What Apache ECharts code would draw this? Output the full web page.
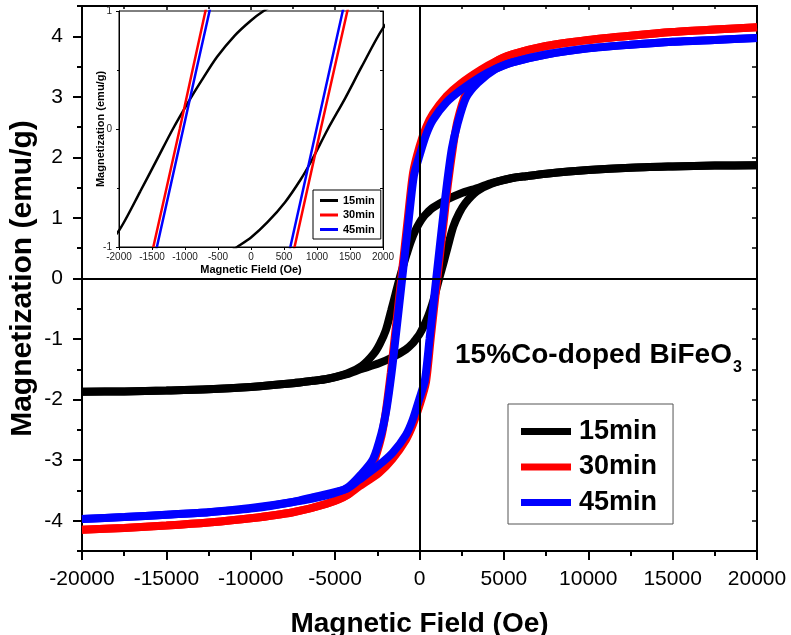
<!DOCTYPE html>
<html>
<head>
<meta charset="utf-8">
<script src="https://cdn.jsdelivr.net/npm/echarts@6/dist/echarts.min.js"></script>
<style>
html, body { margin: 0; padding: 0; background: #fff; }
#chart { width: 791px; height: 635px; }
</style>
</head>
<body>
<div id="chart"></div>
<script>
// 样品名称和颜色
var sampleNames = ['15min', '30min', '45min']
var sampleColors = ['#000000', '#ff0000', '#0000ff']

// 刻度
var yMajor = [-4, -3, -2, -1, 0, 1, 2, 3, 4]

// 15min 回线: [H (Oe), M (emu/g)]
var down15 = [[20000, 1.87], [17500, 1.865], [15000, 1.85], [12500, 1.83], [10000, 1.79], [7500, 1.73],
	[6300, 1.69], [5500, 1.66], [4300, 1.58], [3500, 1.50], [2400, 1.40], [1600, 1.30], [800, 1.17],
	[400, 1.07], [190, 1.0], [0, 0.92], [-250, 0.79], [-516, 0.61], [-750, 0.41], [-921, 0.255],
	[-1184, 0.0], [-1426, -0.26], [-1679, -0.53], [-2000, -0.86], [-2350, -1.08], [-2700, -1.24],
	[-3400, -1.44], [-4300, -1.57], [-5500, -1.66], [-6300, -1.69], [-7500, -1.73], [-10000, -1.79],
	[-12500, -1.83], [-15000, -1.85], [-17500, -1.865], [-20000, -1.87]]
var up15 = [[-20000, -1.87], [-17500, -1.865], [-15000, -1.85], [-12500, -1.83], [-10000, -1.79],
	[-7500, -1.73], [-6300, -1.69], [-5500, -1.66], [-4300, -1.58], [-3500, -1.50], [-2400, -1.40],
	[-1600, -1.30], [-800, -1.17], [-400, -1.07], [-210, -1.0], [0, -0.92], [250, -0.79], [516, -0.62],
	[750, -0.43], [921, -0.265], [1165, 0.0], [1426, 0.26], [1679, 0.53], [2000, 0.855], [2350, 1.08],
	[2700, 1.24], [3400, 1.44], [4300, 1.57], [5500, 1.66], [6300, 1.69], [7500, 1.73], [10000, 1.79],
	[12500, 1.83], [15000, 1.85], [17500, 1.865], [20000, 1.87]]

// 30min 回线
var down30 = [[20000, 4.15], [17500, 4.11], [15000, 4.07], [12500, 4.01], [10000, 3.94], [7500, 3.84],
	[5500, 3.70], [4500, 3.58], [3600, 3.44], [2400, 3.21], [1600, 3.01], [800, 2.72], [400, 2.50],
	[0, 2.18], [-380, 1.75], [-690, 1.0], [-1080, 0.0], [-1480, -1.0], [-1700, -1.55], [-2000, -2.2],
	[-2250, -2.6], [-2750, -3.05], [-3450, -3.32], [-4300, -3.58], [-5500, -3.72], [-7500, -3.86],
	[-10000, -3.96], [-12500, -4.03], [-15000, -4.08], [-17500, -4.12], [-20000, -4.15]]
var up30 = [[-20000, -4.15], [-17500, -4.12], [-15000, -4.08], [-12500, -4.03], [-10000, -3.96],
	[-7500, -3.86], [-5500, -3.72], [-4300, -3.58], [-3600, -3.44], [-2400, -3.21], [-1600, -2.98],
	[-800, -2.66], [-400, -2.42], [0, -2.1], [380, -1.72], [660, -1.0], [1057, 0.0], [1460, 1.0],
	[1680, 1.55], [2000, 2.2], [2250, 2.6], [2750, 3.05], [3450, 3.32], [4500, 3.58], [5500, 3.70],
	[7500, 3.84], [10000, 3.94], [12500, 4.01], [15000, 4.07], [17500, 4.11], [20000, 4.15]]

// 45min 回线
var down45 = [[20000, 3.97], [17500, 3.94], [15000, 3.91], [12500, 3.86], [10000, 3.80], [7500, 3.70],
	[5500, 3.57], [4500, 3.46], [3600, 3.33], [2400, 3.10], [1600, 2.91], [800, 2.62], [400, 2.38],
	[0, 2.03], [-330, 1.70], [-628, 1.0], [-1027, 0.0], [-1426, -1.0], [-1650, -1.55], [-1950, -2.15],
	[-2250, -2.55], [-2750, -2.98], [-3450, -3.23], [-4300, -3.46], [-5500, -3.58], [-7500, -3.69],
	[-10000, -3.79], [-12500, -3.86], [-15000, -3.90], [-17500, -3.94], [-20000, -3.97]]
var up45 = [[-20000, -3.97], [-17500, -3.94], [-15000, -3.90], [-12500, -3.86], [-10000, -3.80],
	[-7500, -3.69], [-6300, -3.61], [-4300, -3.47], [-3600, -3.33], [-2400, -3.08], [-1600, -2.88],
	[-800, -2.58], [-400, -2.33], [0, -1.98], [320, -1.68], [596, -1.0], [993, 0.0], [1390, 1.0],
	[1620, 1.55], [1920, 2.15], [2250, 2.55], [2750, 2.98], [3450, 3.23], [4500, 3.46], [5500, 3.57],
	[7500, 3.70], [10000, 3.80], [12500, 3.86], [15000, 3.91], [17500, 3.94], [20000, 3.97]]

var loops = [[down15, up15], [down30, up30], [down45, up45]]

var FONT = '"Liberation Sans", Arial, sans-serif'

// 不要千位分隔符
function plain(v) {
	return String(v)
}

function branch(name, color, data, width, xi, yi, z) {
	return {
		name: name,
		type: 'line',
		data: data,
		xAxisIndex: xi,
		yAxisIndex: yi,
		symbol: 'none',
		showSymbol: false,
		smooth: 0.25,
		color: color,
		lineStyle: { color: color, width: width },
		z: z,
		silent: true
	}
}

function zeroLines(width) {
	return {
		silent: true,
		symbol: 'none',
		label: { show: false },
		lineStyle: { color: '#000', width: width, type: 'solid' },
		data: [{ xAxis: 0 }, { yAxis: 0 }]
	}
}

var series = []
// 主图
loops.forEach(function (pair, i) {
	pair.forEach(function (d) {
		series.push(branch(sampleNames[i], sampleColors[i], d, 8, 0, 0, 2))
	})
})
series[0].markLine = zeroLines(2)
// 插图
var insetStart = series.length
loops.forEach(function (pair, i) {
	pair.forEach(function (d) {
		series.push(branch(sampleNames[i], sampleColors[i], d, 2.5, 2, 3, 9))
	})
})
series[insetStart].markLine = zeroLines(1)

var chart = echarts.init(document.getElementById('chart'))
var option = {
	animation: false,
	grid: [
		{ left: 82, top: 6, width: 675, height: 545, outerBoundsMode: 'none', show: true, borderColor: '#000', borderWidth: 2, backgroundColor: 'transparent', z: 0 },
		{ left: 119, top: 11, width: 264, height: 236, outerBoundsMode: 'none', show: true, borderColor: '#000', borderWidth: 1, backgroundColor: '#fff', z: 8 }
	],
	xAxis: [
		{
			gridIndex: 0, type: 'value', position: 'bottom', min: -20000, max: 20000, interval: 5000,
			axisLine: { show: true, onZero: false, lineStyle: { color: '#000', width: 2 } },
			axisTick: { show: true, length: 9, lineStyle: { color: '#000', width: 2 } },
			minorTick: { show: true, splitNumber: 2, length: 5, lineStyle: { color: '#000', width: 2 } },
			splitLine: { show: false },
			axisLabel: { fontSize: 21, color: '#000', fontFamily: FONT, margin: 18, formatter: plain },
			name: 'Magnetic Field (Oe)', nameLocation: 'middle', nameGap: 59, nameMoveOverlap: false,
			nameTextStyle: { fontSize: 28, fontWeight: 'bold', color: '#000', fontFamily: FONT }
		},
		{
			gridIndex: 0, type: 'value', position: 'top', min: -20000, max: 20000, interval: 5000,
			axisLine: { show: true, onZero: false, lineStyle: { color: '#000', width: 2 } },
			axisTick: { show: true, inside: true, length: 4, lineStyle: { color: '#000', width: 1.5 } },
			minorTick: { show: true, splitNumber: 2, length: 3, lineStyle: { color: '#000', width: 1.5 } },
			splitLine: { show: false }, axisLabel: { show: false }
		},
		{
			gridIndex: 1, type: 'value', min: -2000, max: 2000, interval: 500, z: 10,
			axisLine: { show: true, onZero: false, lineStyle: { color: '#000', width: 1 } },
			axisTick: { show: true, length: 3, lineStyle: { color: '#000', width: 1 } },
			splitLine: { show: false },
			axisLabel: { fontSize: 10, color: '#222', fontFamily: FONT, margin: 5, formatter: plain },
			name: 'Magnetic Field (Oe)', nameLocation: 'middle', nameGap: 17,
			nameTextStyle: { fontSize: 11, fontWeight: 'bold', color: '#000', fontFamily: FONT }
		}
	],
	yAxis: [
		{
			gridIndex: 0, type: 'value', position: 'left', min: -4.5, max: 4.5,
			axisLine: { show: true, onZero: false, lineStyle: { color: '#000', width: 2 } },
			axisTick: { show: true, length: 9, customValues: yMajor, lineStyle: { color: '#000', width: 2 } },
			splitLine: { show: false },
			axisLabel: { fontSize: 21, color: '#000', fontFamily: FONT, margin: 19, customValues: yMajor },
			name: 'Magnetization (emu/g)', nameLocation: 'middle', nameGap: 44, nameMoveOverlap: false,
			nameTextStyle: { fontSize: 30, fontWeight: 'bold', color: '#000', fontFamily: FONT }
		},
		{
			gridIndex: 0, type: 'value', position: 'right', min: -4.5, max: 4.5, interval: 0.5,
			axisLine: { show: true, onZero: false, lineStyle: { color: '#000', width: 2 } },
			axisTick: { show: true, inside: true, length: 5, lineStyle: { color: '#000', width: 1.5 } },
			splitLine: { show: false }, axisLabel: { show: false }
		},
		{
			gridIndex: 0, type: 'value', position: 'left', min: -4.5, max: 4.5, interval: 0.5,
			axisLine: { show: false, onZero: false },
			axisTick: { show: true, length: 5, lineStyle: { color: '#000', width: 2 } },
			splitLine: { show: false }, axisLabel: { show: false }
		},
		{
			gridIndex: 1, type: 'value', position: 'left', min: -1, max: 1, interval: 1, z: 10,
			axisLine: { show: true, onZero: false, lineStyle: { color: '#000', width: 1 } },
			axisTick: { show: true, length: 3, lineStyle: { color: '#000', width: 1 } },
			minorTick: { show: true, splitNumber: 2, length: 2, lineStyle: { color: '#000', width: 1 } },
			splitLine: { show: false },
			axisLabel: { fontSize: 10, color: '#222', fontFamily: FONT, margin: 7 },
			name: 'Magnetization (emu/g)', nameLocation: 'middle', nameGap: 13, nameMoveOverlap: false,
			nameTextStyle: { fontSize: 11, fontWeight: 'bold', color: '#000', fontFamily: FONT }
		},
		{
			gridIndex: 1, type: 'value', position: 'right', min: -1, max: 1, interval: 0.5, z: 10,
			axisLine: { show: true, onZero: false, lineStyle: { color: '#000', width: 1 } },
			axisTick: { show: true, inside: true, length: 3, lineStyle: { color: '#000', width: 1 } },
			splitLine: { show: false }, axisLabel: { show: false }
		}
	],
	legend: [
		{
			data: sampleNames, orient: 'vertical', left: 508, top: 404,
			padding: [14, 16, 8, 13], itemWidth: 50, itemHeight: 7, itemGap: 8.5, icon: 'rect',
			borderColor: '#555', borderWidth: 1, selectedMode: false,
			textStyle: { fontSize: 27, fontWeight: 'bold', color: '#000', fontFamily: FONT, padding: [0, 0, 0, 3] }
		},
		{
			data: sampleNames, orient: 'vertical', left: 313, top: 190, z: 11,
			padding: [5, 6, 4, 7], itemWidth: 18, itemHeight: 3, itemGap: 3.5, icon: 'rect',
			borderColor: '#000', borderWidth: 1, backgroundColor: '#fff', selectedMode: false,
			textStyle: { fontSize: 11, fontWeight: 'bold', color: '#000', fontFamily: FONT }
		}
	],
	graphic: [
		{
			type: 'text', left: 455, top: 341, z: 20,
			style: {
				text: '{m|15%Co-doped BiFeO}{s|3}',
				fill: '#000',
				rich: {
					m: { fontSize: 28, fontWeight: 'bold', fontFamily: FONT, lineHeight: 30, verticalAlign: 'top' },
					s: { fontSize: 16, fontWeight: 'bold', fontFamily: FONT, verticalAlign: 'top', padding: [19, 0, 0, 1] }
				}
			}
		}
	],
	series: series
}
chart.setOption(option)
</script>
</body>
</html>
